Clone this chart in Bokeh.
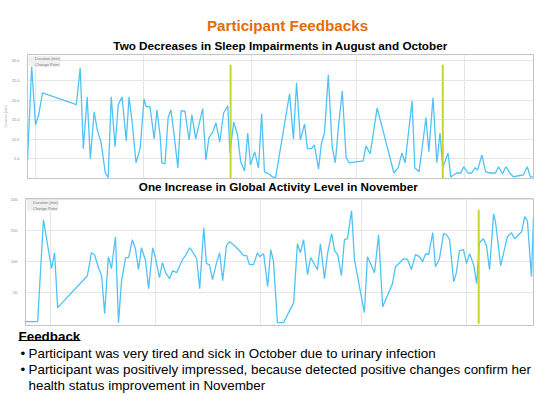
from bokeh.plotting import figure
from bokeh.layouts import column
from bokeh.models import (Range1d, FixedTicker, PrintfTickFormatter, ColumnDataSource,
                          Legend, LegendItem, Label, BoxAnnotation)
from bokeh.embed import file_html
from bokeh.resources import INLINE

# ---------------- texts ----------------
TITLE = "Participant Feedbacks"
SUB1 = "Two Decreases in Sleep Impairments in August and October"
SUB2 = "One Increase in Global Activity Level in November"
FEED_HEAD = "Feedback"
FEED_LINES = [
    "Participant was very tired and sick in October due to urinary infection",
    "Participant was positively impressed, because detected positive changes confirm her",
    "health status improvement in November",
]
LEGEND_LABELS = ["Duration (min)", "Change Point"]
Y_LABEL = "Duration (min)"

# ---------------- data ----------------
# x = days since 1 July; month starts Jul 1, Aug 1, Sep 1, Oct 1, Nov 1
month_starts = [0, 31, 62, 92, 123]

sleep_day = [-2.3, -1.1, 0.0, 0.9, 2.0, 11.7, 12.8, 13.7, 14.8, 15.7,
             16.8, 17.7, 18.8, 20.0, 20.8, 21.7, 22.8, 23.7, 24.8, 26.0,
             26.8, 27.7, 28.8, 30.0, 31.1, 31.7, 32.8, 34.0, 34.8, 35.7,
             36.2, 37.1, 38.0, 38.8, 39.7, 40.8, 41.7, 42.8, 44.0, 44.8,
             45.9, 47.9, 48.8, 49.7, 50.8, 51.7, 52.8, 53.9, 55.1, 55.7,
             56.8, 57.9, 58.8, 59.9, 60.8, 61.6, 62.8, 63.9, 64.8, 65.6,
             66.8, 67.9, 68.8, 72.8, 73.9, 74.8, 75.9, 77.1, 77.9, 79.1,
             79.9, 81.1, 81.9, 82.8, 83.9, 85.0, 85.9, 86.8, 87.9, 89.0,
             89.9, 93.9, 94.7, 95.9, 97.9, 102.7, 103.9, 105.0, 105.9, 107.9,
             108.7, 109.9, 111.9, 112.7, 113.9, 115.0, 115.9, 116.7, 118.2, 119.0,
             120.7, 121.9, 122.7, 123.9, 125.0, 125.9, 126.7, 127.9, 129.0, 130.4,
             131.8, 132.7, 133.8, 134.8, 136.1, 137.0, 138.4, 139.8, 140.9, 141.8,
             142.7]
sleep_min = [4.7, 28.5, 13.7, 16.2, 21.8, 18.8, 28.2, 7.6, 20.8, 5.0,
             17.0, 12.4, 9.1, 1.4, 0.2, 20.8, 8.1, 18.8, 20.8, 9.6,
             20.8, 14.2, 4.0, 7.8, 20.3, 18.3, 18.3, 10.1, 17.5, 10.9,
             4.0, 3.7, 15.5, 17.5, 11.1, 2.7, 17.2, 17.2, 9.8, 16.2,
             10.1, 17.8, 4.7, 10.4, 11.9, 14.2, 9.3, 16.7, 18.5, 6.5,
             14.4, 11.1, 4.2, 1.9, 11.6, 3.5, 6.8, 2.7, 16.5, 1.7,
             1.2, 0.4, 0.2, 21.6, 10.1, 24.4, 9.8, 13.9, 7.6, 7.6,
             8.6, 2.4, 8.8, 11.6, 26.4, 8.1, 4.0, 13.2, 22.3, 5.3,
             4.0, 4.5, 8.3, 6.3, 18.0, 1.4, 2.7, 6.5, 4.0, 19.8,
             2.7, 1.7, 15.5, 6.8, 20.6, 4.0, 11.6, 2.7, 6.5, 0.4,
             1.4, 1.4, 3.0, 1.4, 1.4, 2.7, 2.2, 6.0, 1.7, 1.4,
             1.4, 3.0, 1.2, 3.0, 1.2, 0.4, 0.7, 0.9, 3.0, 0.4,
             0.4]
sleep_change_day = [55.9, 116.7]
sleep_change_top = [29.0, 29.0]
sleep_yticks = [5, 10, 15, 20, 25, 30]

activity_day = [-8.0, -3.8, -2.1, 0.3, 1.2, 2.1, 10.9, 12.1, 13.0, 14.2,
                15.1, 16.0, 17.1, 18.0, 19.2, 20.1, 21.0, 22.2, 23.1, 24.2,
                25.1, 26.0, 26.9, 28.1, 29.0, 30.2, 31.0, 32.2, 33.1, 34.0,
                35.2, 36.1, 37.3, 39.0, 39.9, 41.1, 42.0, 43.2, 44.1, 45.3,
                46.1, 47.0, 47.9, 49.1, 50.0, 50.9, 52.0, 52.9, 54.1, 55.0,
                55.9, 57.1, 58.0, 58.8, 60.0, 61.2, 61.8, 63.0, 64.2, 65.1,
                65.9, 67.1, 68.9, 71.9, 73.0, 73.9, 74.8, 76.0, 76.9, 77.8,
                78.9, 79.8, 81.0, 81.9, 83.1, 84.0, 84.9, 86.0, 86.9, 87.8,
                89.0, 89.9, 92.8, 93.7, 95.8, 97.0, 98.2, 101.1, 102.0, 104.4,
                105.6, 106.7, 107.9, 109.1, 110.0, 110.9, 111.8, 113.0, 113.8, 115.0,
                116.2, 117.1, 118.0, 119.2, 120.0, 120.9, 122.1, 123.0, 123.9, 125.1,
                126.0, 126.8, 128.0, 128.9, 129.8, 131.0, 131.6, 133.1, 134.2, 135.1,
                136.3, 137.2, 139.3, 140.2, 141.0, 142.2, 142.8]
activity_min = [3.2, 3.2, 167.7, 88.7, 114.5, 25.8, 77.4, 114.5, 111.3, 90.3,
                77.4, 16.1, 108.1, 88.7, 140.3, 1.6, 69.4, 106.5, 106.5, 135.5,
                121.0, 87.1, 122.6, 101.6, 56.5, 122.6, 106.5, 74.2, 98.4, 82.3,
                72.6, 85.5, 82.3, 103.2, 109.7, 122.6, 116.1, 104.8, 56.5, 154.8,
                96.8, 95.2, 71.0, 98.4, 114.5, 69.4, 125.8, 132.3, 127.4, 122.6,
                117.7, 109.7, 109.7, 95.2, 95.2, 114.5, 108.1, 112.9, 59.7, 119.4,
                101.6, 1.6, 1.6, 33.9, 129.0, 114.5, 135.5, 79.0, 106.5, 98.4,
                87.1, 129.0, 72.6, 112.9, 145.2, 117.7, 111.3, 77.4, 135.5, 137.1,
                182.3, 101.6, 17.7, 108.1, 82.3, 143.5, 27.4, 64.5, 91.9, 104.8,
                103.2, 87.1, 111.3, 108.1, 100.0, 112.9, 111.3, 146.8, 91.9, 104.8,
                145.2, 143.5, 135.5, 67.7, 82.3, 117.7, 119.4, 96.8, 112.9, 95.2,
                64.5, 130.6, 137.1, 125.8, 87.1, 177.4, 162.9, 93.5, 119.4, 140.3,
                146.8, 137.1, 148.4, 172.6, 166.1, 75.8, 171.0]
activity_change_day = [126.6]
activity_change_top = [184.0]
activity_yticks = [50, 100, 150, 200]

# ---------------- style ----------------
W = 550
BL, BR = 25, 17          # chart frame borders
FONT = "Liberation Sans"
BLUE = "#4FC3F7"
CHANGE = "#C8D62B"
ORANGE = "#E46C0A"
GRID = "#e6e6e6"


def text_fig(height):
    p = figure(width=W, height=height, x_range=Range1d(0, 1), y_range=Range1d(0, 1),
               output_backend="svg", toolbar_location=None,
               x_axis_location=None, y_axis_location=None, frame_align=False,
               min_border=0, min_border_left=0, min_border_right=0,
               min_border_top=0, min_border_bottom=0)
    p.outline_line_color = None
    p.xgrid.visible = False
    p.ygrid.visible = False
    return p


def label(p, x, y, text, size, color="black", bold=False, align="left"):
    # x, y in screen px from the figure's left / bottom edge
    p.add_layout(Label(x=x, y=y, x_units="screen", y_units="screen", text=text,
                       text_font=FONT, text_font_size=size, text_color=color,
                       text_font_style="bold" if bold else "normal",
                       text_align=align, text_baseline="middle"))


def chart(days, vals, ch_days, ch_top, xr, yr, yticks, fmt, height, bt, bb, ylabel=None):
    p = figure(width=W, height=height, x_range=Range1d(*xr), y_range=Range1d(*yr),
               output_backend="svg", toolbar_location=None, x_axis_location=None,
               frame_align=False,
               min_border_left=BL, min_border_right=BR, min_border_top=bt,
               min_border_bottom=bb)
    p.outline_line_color = "#c4c4c4"
    p.xgrid.ticker = FixedTicker(ticks=month_starts)
    p.xgrid.grid_line_color = GRID
    p.yaxis.ticker = FixedTicker(ticks=yticks)
    p.ygrid.ticker = FixedTicker(ticks=yticks)
    p.ygrid.grid_line_color = GRID
    p.yaxis.formatter = PrintfTickFormatter(format=fmt)
    p.yaxis.major_label_text_font_size = "4px"
    p.yaxis.major_label_text_color = "#8a8a8a"
    p.yaxis.major_label_text_font = FONT
    p.yaxis.axis_line_color = None
    p.yaxis.major_tick_line_color = None
    p.yaxis.minor_tick_line_color = None
    p.yaxis.major_label_standoff = 2
    if ylabel:
        p.yaxis.axis_label = ylabel
        p.yaxis.axis_label_text_font_size = "3.5px"
        p.yaxis.axis_label_text_color = "#aaaaaa"
        p.yaxis.axis_label_text_font_style = "normal"
        p.yaxis.axis_label_standoff = 1

    src = ColumnDataSource(dict(x=days, y=vals))
    p.line("x", "y", source=src, line_color=BLUE, line_width=1.3)
    csrc = ColumnDataSource(dict(x=ch_days, top=ch_top, bottom=[0] * len(ch_days)))
    p.segment(x0="x", y0="bottom", x1="x", y1="top", source=csrc,
              line_color=CHANGE, line_width=2)

    # legend swatches (no data, used only for the legend)
    r1 = p.quad(left=[], right=[], top=[], bottom=[], fill_color=BLUE, line_color=None)
    r2 = p.quad(left=[], right=[], top=[], bottom=[], fill_color=CHANGE, line_color=None)
    leg = Legend(items=[LegendItem(label=LEGEND_LABELS[0], renderers=[r1]),
                        LegendItem(label=LEGEND_LABELS[1], renderers=[r2])],
                 location="top_left", margin=2, padding=2, spacing=1,
                 label_height=4, glyph_height=4, glyph_width=4, label_standoff=2,
                 label_text_font_size="4px", label_text_color="#777777",
                 label_text_font=FONT,
                 background_fill_color="#eeeeee", background_fill_alpha=0.9,
                 border_line_color=None)
    p.add_layout(leg)
    return p


# header (page y 0..52)
HH = 52
header = text_fig(HH)
label(header, 287, HH - 24.6, TITLE, "15.2px", ORANGE, bold=True, align="center")
label(header, 280, HH - 45, SUB1, "11.7px", "black", bold=True, align="center")

top = chart(sleep_day, sleep_min, sleep_change_day, sleep_change_top,
            (-2.3, 142.7), (0, 31.6), sleep_yticks, "%.1f", 128, 2, 2, ylabel=Y_LABEL)

MH = 16   # page y 180..196
mid = text_fig(MH)
label(mid, 278, MH - 6, SUB2, "11.7px", "black", bold=True, align="center")

bottom = chart(activity_day, activity_min, activity_change_day, activity_change_top,
               (-7.4, 142.8), (-3, 202), activity_yticks, "%d", 131, 2, 2)

FH = 68   # page y 327..395
footer = text_fig(FH)
label(footer, 18, FH - 9, FEED_HEAD, "13.4px", "black", bold=True)
footer.add_layout(BoxAnnotation(left=18, right=80, bottom=FH - 13.6, top=FH - 12.4,
                                left_units="screen", right_units="screen",
                                bottom_units="screen", top_units="screen",
                                fill_color="black", fill_alpha=1, line_color=None))
label(footer, 20, FH - 26, "\u2022", "13.4px")
label(footer, 28, FH - 26, FEED_LINES[0], "13.4px")
label(footer, 20, FH - 42, "\u2022", "13.4px")
label(footer, 28, FH - 42, FEED_LINES[1], "13.4px")
label(footer, 28, FH - 58, FEED_LINES[2], "13.4px")

layout = column(header, top, mid, bottom, footer, spacing=0)

open("out.html", "w").write(file_html(layout, INLINE))
